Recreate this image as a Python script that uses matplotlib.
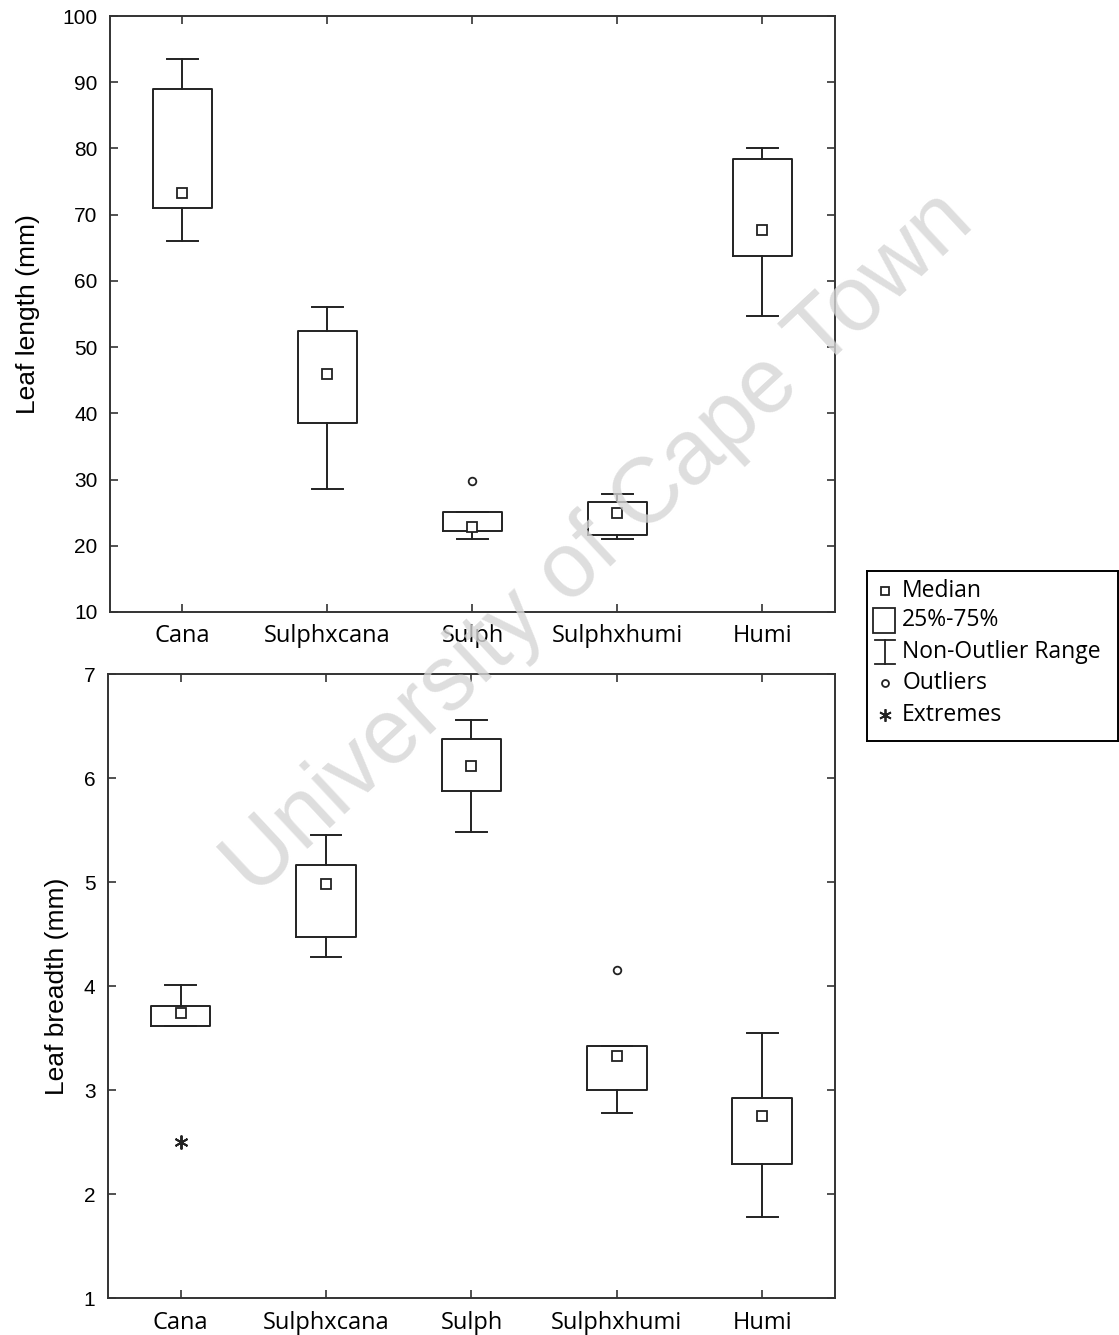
import numpy as np
import matplotlib
matplotlib.use("Agg")
import matplotlib.pyplot as plt

# --- data ----------------------------------------------------------------
groups = ["Cana", "Sulphxcana", "Sulph", "Sulphxhumi", "Humi"]

# leaf length (mm)
len_whislo = [66.0, 28.6, 21.0, 21.0, 54.7]
len_q1     = [71.0, 38.5, 22.2, 21.6, 63.8]
len_med    = [73.3, 45.9, 22.8, 25.0, 67.7]
len_q3     = [89.0, 52.4, 25.1, 26.6, 78.4]
len_whishi = [93.5, 56.1, 25.1, 27.8, 80.1]
len_outliers = {"Sulph": [29.8]}
len_extremes = {}

# leaf breadth (mm)
br_whislo = [3.62, 4.28, 5.48, 2.78, 1.78]
br_q1     = [3.62, 4.47, 5.88, 3.00, 2.29]
br_med    = [3.74, 4.98, 6.12, 3.33, 2.75]
br_q3     = [3.81, 5.16, 6.38, 3.42, 2.92]
br_whishi = [4.01, 5.45, 6.56, 3.42, 3.55]
br_outliers = {"Sulphxhumi": [4.15]}
br_extremes = {"Cana": [2.5]}

YFONT = "Liberation Sans"
XFONT = "Open Sans"
ASTER = (6, 2, 0)   # six-armed asterisk marker


def draw_panel(ax, lo, q1, med, q3, hi, outl, extr, ylim, yticks, ylabel,
               label_x):
    stats = []
    for i, g in enumerate(groups):
        stats.append(dict(label=g, whislo=lo[i], q1=q1[i], med=med[i],
                          q3=q3[i], whishi=hi[i], fliers=[]))
    pos = np.arange(len(groups))
    ax.bxp(stats, positions=pos, widths=0.41, showfliers=False,
           boxprops=dict(color="#222222", lw=1.4),
           whiskerprops=dict(color="#222222", lw=1.4),
           capprops=dict(color="#222222", lw=1.4),
           medianprops=dict(visible=False), capwidths=0.21)
    ax.plot(pos, med, ls="none", marker="s", ms=6.5, mfc="white",
            mec="#222222", mew=1.3, zorder=4)
    for g, vals in outl.items():
        ax.plot([groups.index(g)] * len(vals), vals, ls="none", marker="o",
                ms=5.5, mfc="white", mec="#222222", mew=1.3, zorder=4)
    for g, vals in extr.items():
        ax.plot([groups.index(g)] * len(vals), vals, ls="none", marker=ASTER,
                ms=10, color="#222222", mew=1.4, zorder=4)
    ax.set_xlim(-0.5, len(groups) - 0.5)
    ax.set_ylim(*ylim)
    ax.set_yticks(yticks)
    ax.set_xticks(pos)
    ax.set_xticklabels(groups, family=XFONT, fontsize=17, weight="medium")
    for t in ax.get_yticklabels():
        t.set_family(YFONT)
        t.set_fontsize(15)
    ax.set_ylabel(ylabel, family=YFONT, fontsize=19)
    ax.yaxis.set_label_coords(label_x, 0.5)
    ax.tick_params(direction="in", top=True, right=True, length=6,
                   width=1.2, color="#333333")
    ax.tick_params(axis="x", pad=9)
    ax.tick_params(axis="y", pad=9)
    for s in ax.spines.values():
        s.set_linewidth(1.4)
        s.set_color("#333333")


fig = plt.figure(figsize=(11.19, 13.35), dpi=100)
ax1 = fig.add_axes([0.0983, 0.5416, 0.6479, 0.4464])
ax2 = fig.add_axes([0.0965, 0.0277, 0.6497, 0.4674])

draw_panel(ax1, len_whislo, len_q1, len_med, len_q3, len_whishi,
           len_outliers, len_extremes, (10, 100), np.arange(10, 101, 10),
           "Leaf length (mm)", -0.097)
draw_panel(ax2, br_whislo, br_q1, br_med, br_q3, br_whishi,
           br_outliers, br_extremes, (1, 7), np.arange(1, 8, 1),
           "Leaf breadth (mm)", -0.053)

# --- legend box, drawn by hand ------------------------------------------
lg = fig.add_axes([0.7748, 0.445, 0.2245, 0.1273])
lg.set_xlim(0, 1)
lg.set_ylim(0, 1)
lg.set_xticks([])
lg.set_yticks([])
for s in lg.spines.values():
    s.set_linewidth(1.4)
entries = ["Median", "25%-75%", "Non-Outlier Range", "Outliers", "Extremes"]
ys = [0.885, 0.71, 0.525, 0.34, 0.155]
lg.plot(0.07, ys[0], marker="s", ms=6, mfc="white", mec="#222222", mew=1.3)
lg.add_patch(plt.Rectangle((0.025, ys[1] - 0.075), 0.085, 0.15,
                           fill=False, lw=1.3, ec="#222222"))
lg.plot([0.07, 0.07], [ys[2] - 0.07, ys[2] + 0.07], color="#222222", lw=1.3)
lg.plot([0.03, 0.11], [ys[2] + 0.07] * 2, color="#222222", lw=1.3)
lg.plot([0.03, 0.11], [ys[2] - 0.07] * 2, color="#222222", lw=1.3)
lg.plot(0.07, ys[3], marker="o", ms=5, mfc="white", mec="#222222", mew=1.3)
lg.plot(0.07, ys[4], marker=ASTER, ms=9, color="#222222", mew=1.3)
for y, t in zip(ys, entries):
    lg.text(0.14, y, t, family=XFONT, fontsize=16.5, weight="medium",
            va="center", ha="left")

# --- watermark -------------------------------------------------------------
fig.text(0.536, 0.592, "University of Cape Town", family=YFONT, fontsize=66,
         color="#d6d6d6", rotation=43, ha="center", va="center",
         zorder=0, alpha=0.8)

fig.savefig("out.png", dpi=100)
